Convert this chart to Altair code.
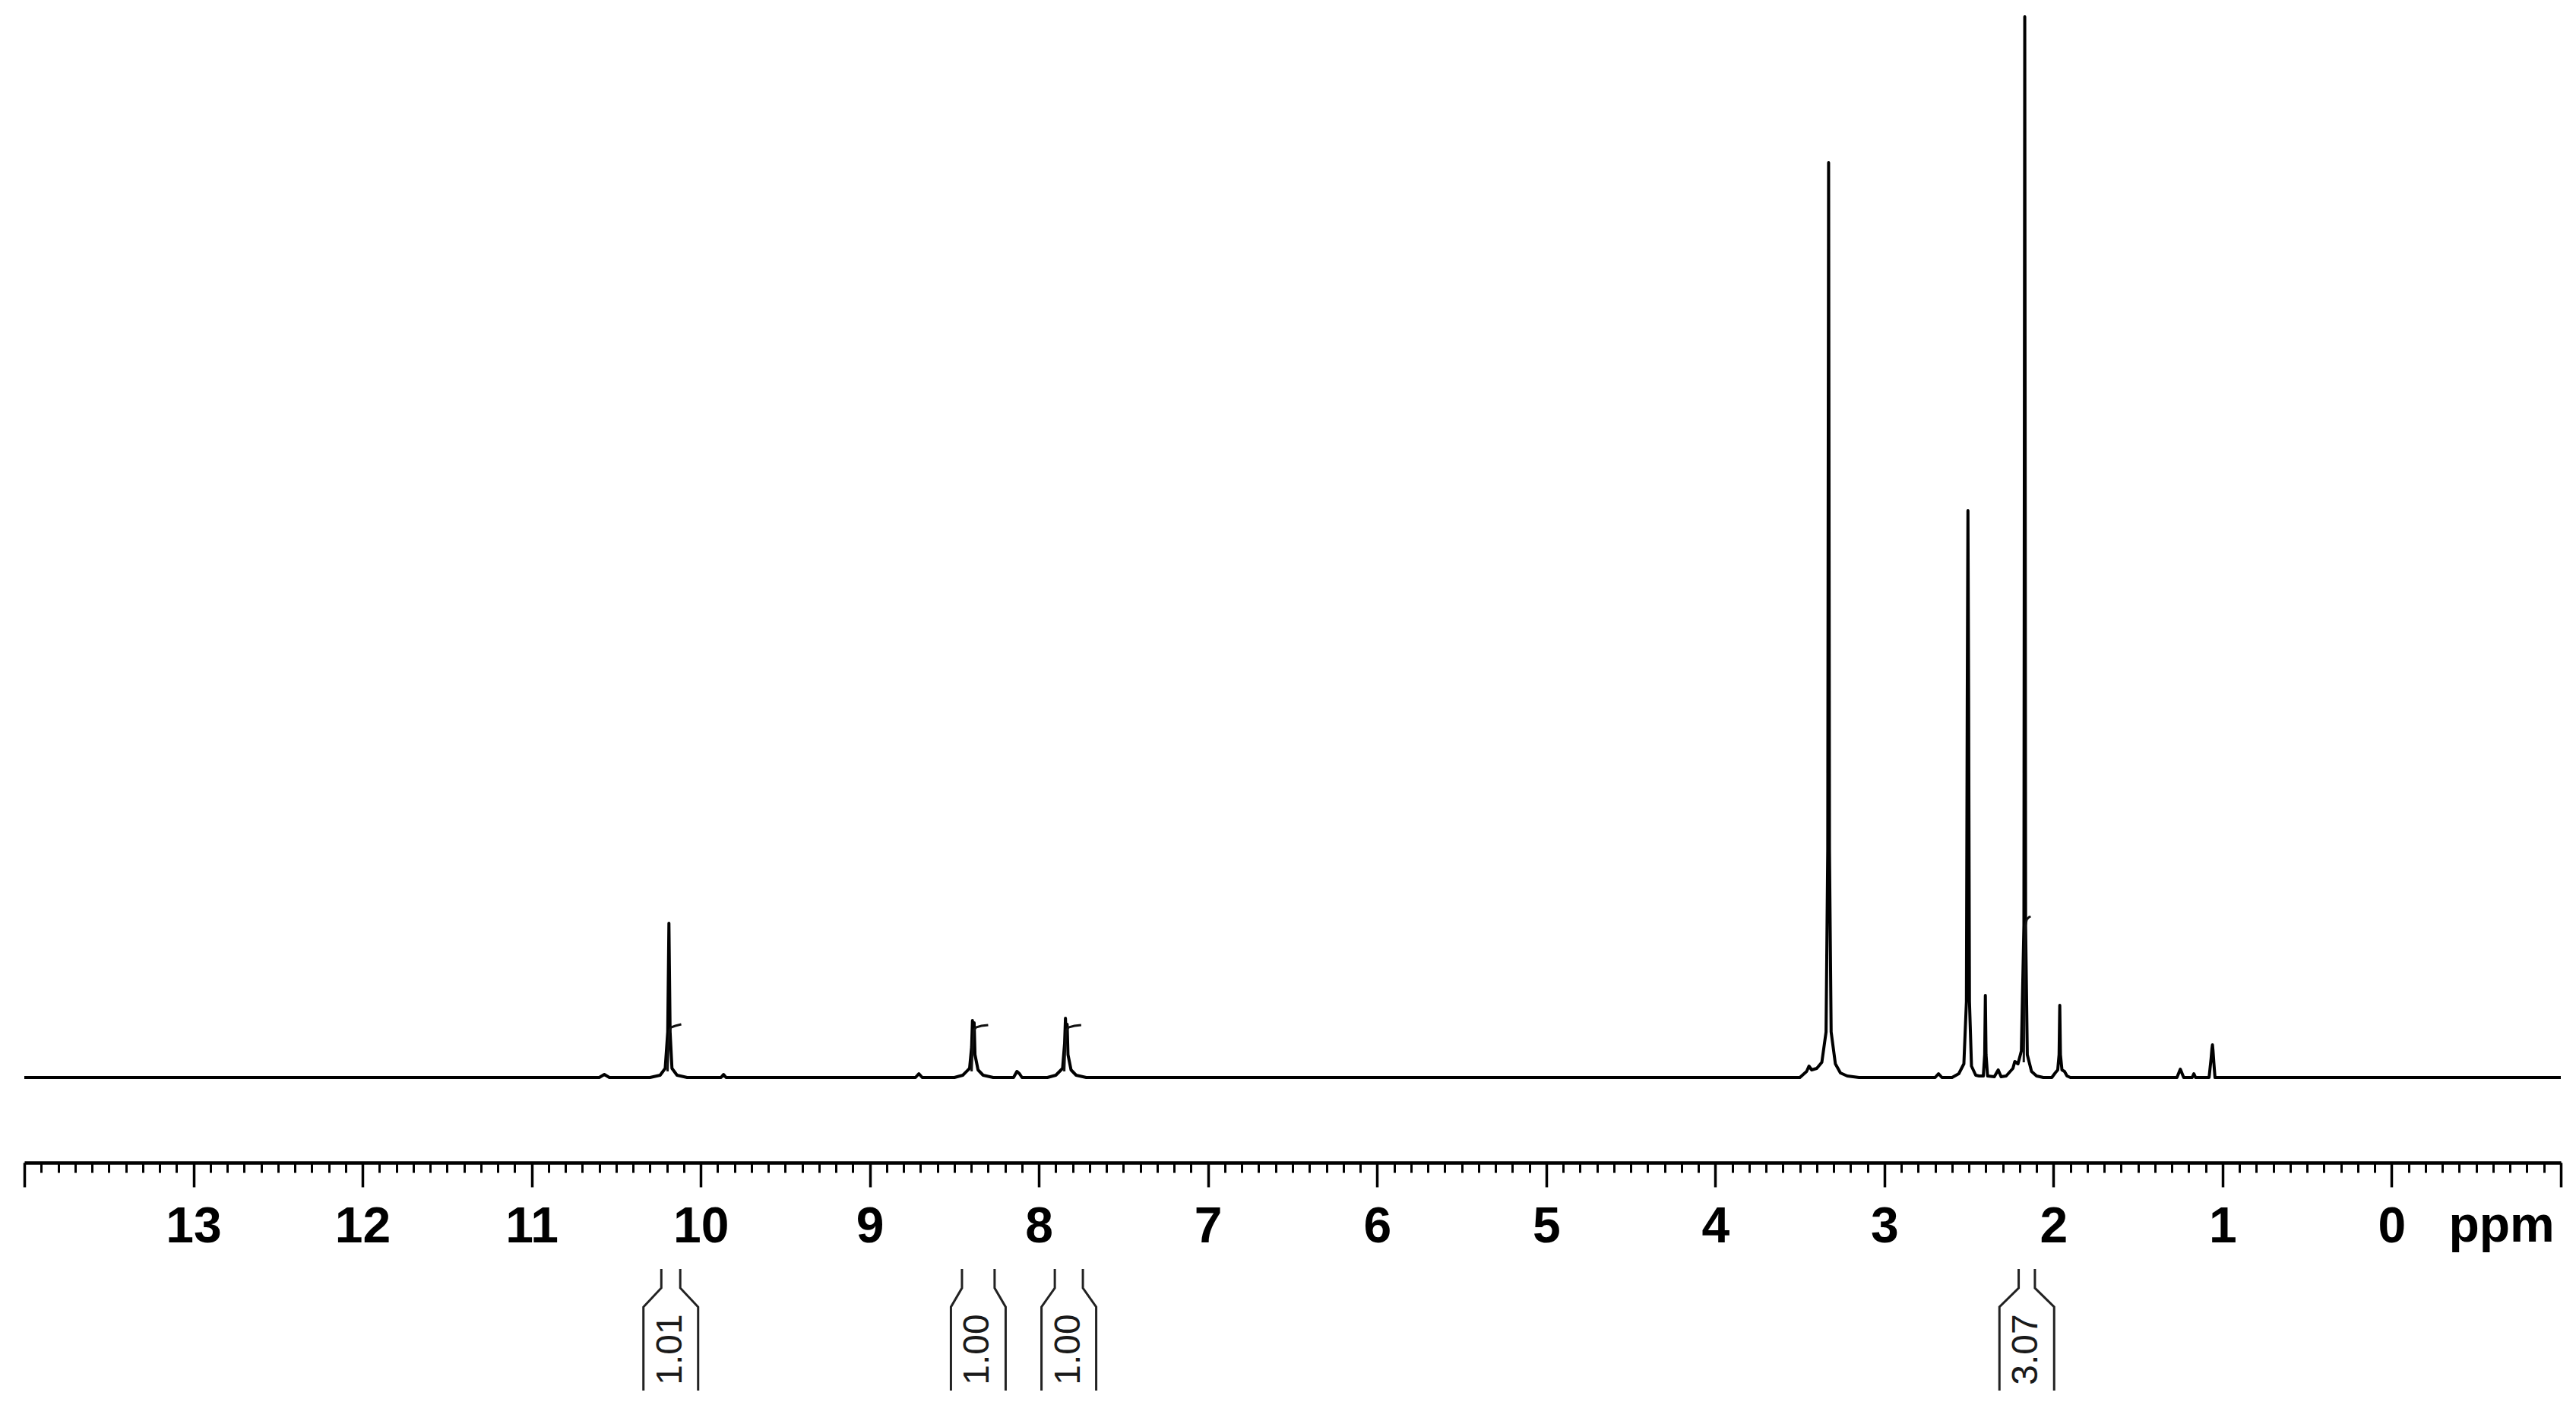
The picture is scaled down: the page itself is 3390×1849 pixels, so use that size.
import altair as alt
import pandas as pd

# ---------------- data ----------------
# 1H NMR trace: chemical shift (ppm) and relative intensity
spec_ppm = [14.0, 10.60, 10.57, 10.54,
            10.30, 10.24, 10.21, 10.195, 10.188, 10.181, 10.17, 10.14, 10.08,
            9.88, 9.865, 9.85,
            8.73, 8.71, 8.69,
            8.50, 8.45, 8.41, 8.398, 8.393, 8.388, 8.383, 8.378, 8.36, 8.33, 8.27,
            8.15, 8.13, 8.115, 8.10,
            7.95, 7.90, 7.86, 7.848, 7.843, 7.838, 7.833, 7.828, 7.81, 7.78, 7.72,
            3.50, 3.46, 3.446, 3.43, 3.40, 3.37, 3.345, 3.335, 3.33, 3.325, 3.315, 3.29, 3.26, 3.22, 3.15,
            2.70, 2.68, 2.66,
            2.60, 2.56, 2.53, 2.515, 2.51, 2.506, 2.502, 2.497, 2.485, 2.46, 2.44,
            2.415, 2.407, 2.403, 2.399, 2.39,
            2.35, 2.327, 2.31,
            2.28, 2.24, 2.229, 2.21, 2.19, 2.175, 2.17, 2.165, 2.155, 2.13, 2.10, 2.06,
            2.01, 1.99, 1.975, 1.967, 1.963, 1.959, 1.95, 1.935, 1.92, 1.90,
            1.27, 1.25, 1.23,
            1.18, 1.17, 1.16,
            1.08, 1.068, 1.063, 1.06, 1.057, 1.052, 1.045,
            -1.0]
spec_int = [0, 0, 4, 0,
            0, 3, 12, 60, 203, 60, 12, 3, 0,
            0, 4, 0,
            0, 5, 0,
            0, 3, 12, 40, 75, 50, 72, 30, 10, 3, 0,
            0, 8, 5, 0,
            0, 3, 12, 45, 78, 50, 70, 30, 10, 3, 0,
            0, 8, 15, 10, 12, 20, 60, 300, 1204, 300, 60, 18, 6, 2, 0,
            0, 5, 0,
            0, 5, 18, 100, 500, 746, 500, 100, 15, 3, 2,
            2, 30, 108, 30, 2,
            1, 10, 1,
            2, 12, 21, 18, 35, 200, 1396, 200, 30, 8, 2, 0,
            0, 6, 10, 30, 95, 30, 10, 8, 2, 0,
            0, 11, 0,
            0, 5, 0,
            0, 25, 38, 43, 36, 20, 0,
            0]

# integral traces drawn over the integrated peaks
integral_ids = ["i1", "i2", "i3", "i4"]
integral_ppm = [[10.196, 10.190, 10.185, 10.175, 10.150, 10.115],
                [8.398, 8.392, 8.386, 8.372, 8.340, 8.300],
                [7.850, 7.845, 7.838, 7.825, 7.790, 7.750],
                [2.176, 2.172, 2.166, 2.158, 2.145, 2.135]]
integral_val = [[8, 45, 62, 66, 68, 70],
                [8, 40, 62, 66, 68, 69],
                [8, 40, 62, 66, 68, 69],
                [20, 120, 200, 208, 211, 212]]

# integration regions (ppm) and their values
region_start = [10.233, 8.455, 7.906, 2.206]
region_end = [10.121, 8.262, 7.740, 2.110]
region_label = ["1.01", "1.00", "1.00", "3.07"]

major_ticks = list(range(-1, 15))
minor_ticks = [round(-1 + 0.1 * k, 1) for k in range(151)]

# ---------------- layout constants ----------------
PX_PER_PPM = 3338 / 15.0
HALF_BOX = 36 / PX_PER_PPM
STEM_TOP, STEM_BEND, BOX_TOP, BOX_BOTTOM, LABEL_Y = -252, -277, -302, -412, -358

spec_df = pd.DataFrame({"ppm": spec_ppm, "v": spec_int, "i": range(len(spec_ppm))})

int_rows = []
for gid, xs, vs in zip(integral_ids, integral_ppm, integral_val):
    for k, (x, v) in enumerate(zip(xs, vs)):
        int_rows.append({"g": gid, "ppm": x, "v": v, "i": k})
int_df = pd.DataFrame(int_rows)

br_rows, lab_rows = [], []
for n, (a, b, lab) in enumerate(zip(region_start, region_end, region_label)):
    c = (a + b) / 2
    for side, stem, box in (("L", a, c + HALF_BOX), ("R", b, c - HALF_BOX)):
        pts = [(stem, STEM_TOP), (stem, STEM_BEND), (box, BOX_TOP), (box, BOX_BOTTOM)]
        for k, (x, v) in enumerate(pts):
            br_rows.append({"g": f"{n}{side}", "ppm": x, "v": v, "i": k})
    lab_rows.append({"ppm": c, "v": LABEL_Y, "t": lab})
br_df = pd.DataFrame(br_rows)
lab_df = pd.DataFrame(lab_rows)
ppm_df = pd.DataFrame({"ppm": [-0.65], "v": [-216], "t": ["ppm"]})

xscale = alt.Scale(domain=[-1, 14], reverse=True, nice=False, zero=False)
yscale = alt.Scale(domain=[-112, 1410], nice=False, zero=False)

minor_axis = alt.Axis(values=minor_ticks, tickSize=13, tickWidth=3, tickColor="black",
                      labels=False, domain=True, domainWidth=4.5, domainColor="black",
                      grid=False, title=None, orient="bottom")
major_axis = alt.Axis(values=major_ticks, tickSize=32, tickWidth=3.5, tickColor="black",
                      domain=False, grid=False, title=None, orient="bottom",
                      labelExpr="datum.value >= 0 && datum.value <= 13 ? format(datum.value, 'd') : ''",
                      labelFont="Liberation Sans", labelFontSize=66, labelFontWeight="bold",
                      labelColor="black", labelPadding=20, labelFlush=False, labelOverlap=False)

X_PLAIN = alt.X("ppm:Q", scale=xscale, axis=None)
Y_PLAIN = alt.Y("v:Q", scale=yscale, axis=None)

spectrum = alt.Chart(spec_df).mark_line(color="black", strokeWidth=4, strokeJoin="round").encode(
    x=alt.X("ppm:Q", scale=xscale, axis=minor_axis),
    y=Y_PLAIN,
    order="i:Q",
)

ppm_text = alt.Chart(ppm_df).mark_text(font="Liberation Sans", fontSize=66, fontWeight="bold",
                                       color="black", align="center", baseline="alphabetic").encode(
    x=alt.X("ppm:Q", scale=xscale, axis=major_axis),
    y=Y_PLAIN,
    text="t:N",
)

integrals = alt.Chart(int_df).mark_line(color="#111111", strokeWidth=3).encode(
    x=X_PLAIN, y=Y_PLAIN, detail="g:N", order="i:Q")

brackets = alt.Chart(br_df).mark_line(color="#222222", strokeWidth=3).encode(
    x=X_PLAIN, y=Y_PLAIN, detail="g:N", order="i:Q")

labels = alt.Chart(lab_df).mark_text(font="Liberation Sans", fontSize=48, angle=270,
                                     color="#1a1a1a", align="center", baseline="middle").encode(
    x=X_PLAIN, y=Y_PLAIN, text="t:N")

chart = alt.layer(spectrum, ppm_text, integrals, brackets, labels).resolve_axis(
    x="independent"
).properties(
    width=3338, height=1522,
    padding={"left": 22, "top": 0, "right": 5, "bottom": 5},
).configure_view(stroke=None)

chart.save("out.html", embed_options={"renderer": "svg", "actions": False})
